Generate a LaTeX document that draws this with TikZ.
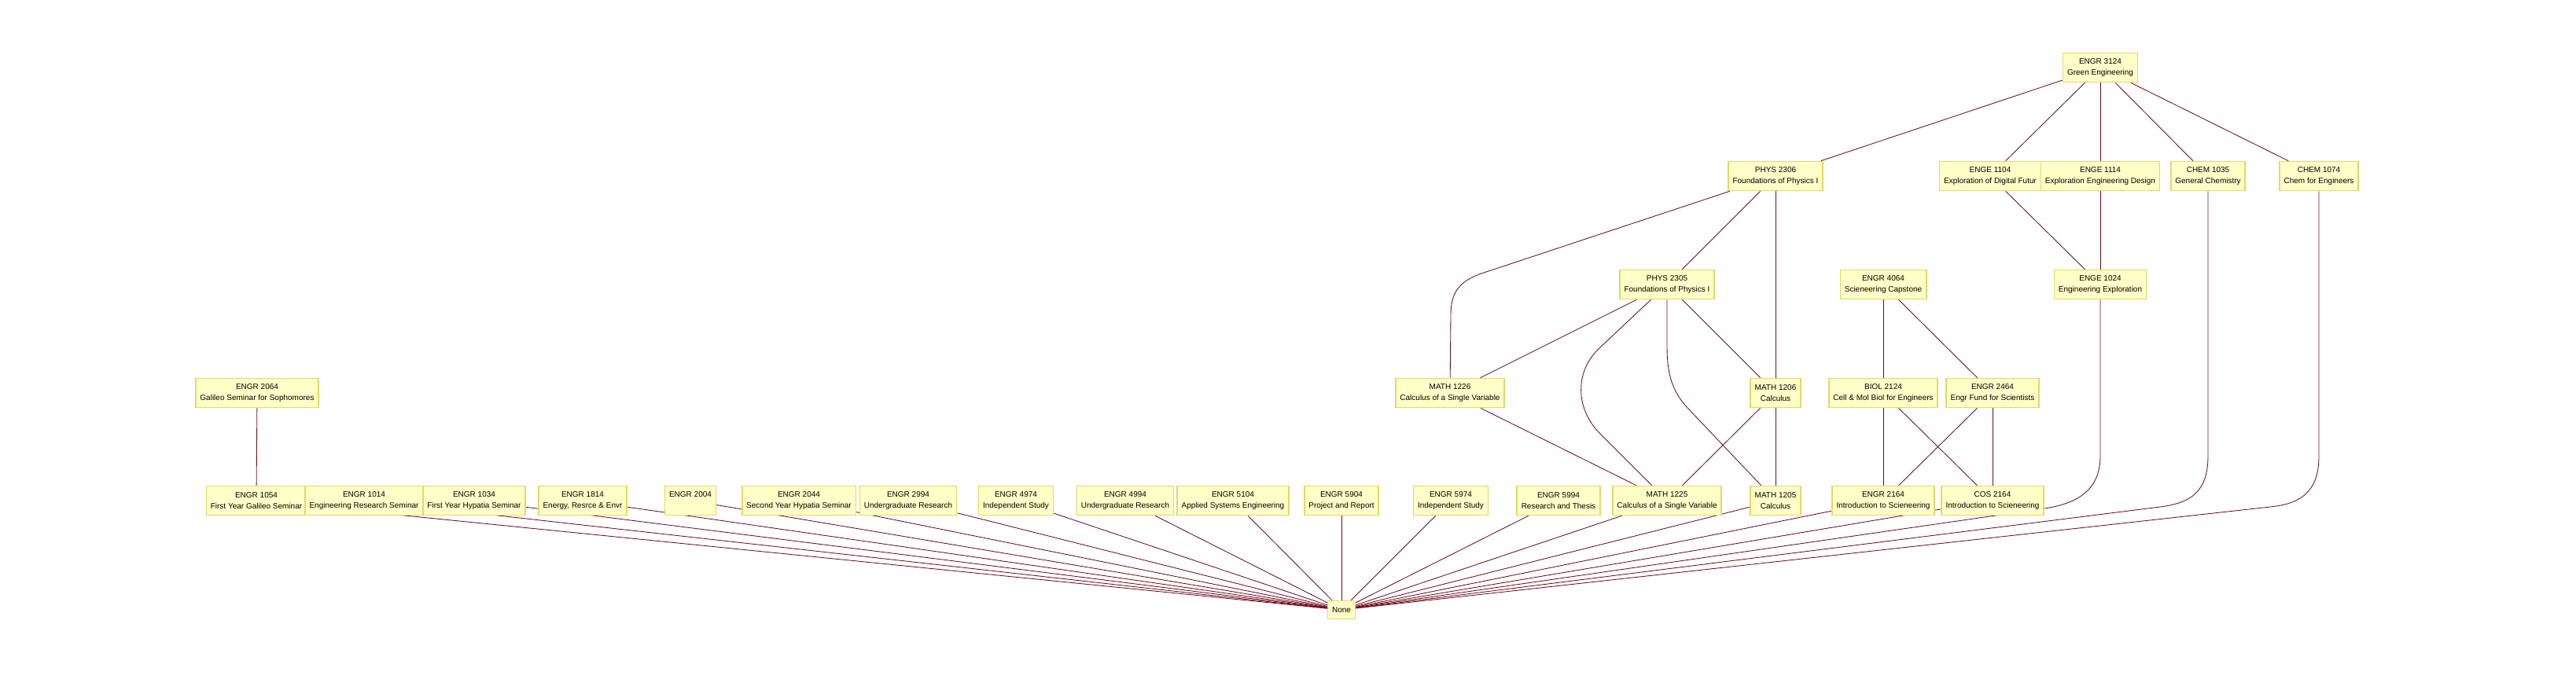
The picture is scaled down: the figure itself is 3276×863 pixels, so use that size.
\documentclass[tikz,border=0pt]{standalone}
\usepackage{fontspec}
\setmainfont{Liberation Sans}
\usetikzlibrary{backgrounds}
\definecolor{boxfill}{RGB}{255,255,200}
\definecolor{boxline}{RGB}{234,214,100}
\definecolor{edgecol}{RGB}{112,12,28}

\begin{document}
\begin{tikzpicture}[
    x=1pt, y=-1pt,
    font=\fontsize{10}{14}\selectfont,
    box/.style={draw=boxline, fill=boxfill, line width=1.6pt, align=center, inner xsep=5.5pt, inner ysep=0pt, minimum height=37pt},
    link/.style={draw=edgecol, line width=0.85pt}
]
\useasboundingbox (0,0) rectangle (3276,863);

% rank 0
\node[box] (r3124) at (2671,86) {ENGR 3124\\ Green Engineering};

% rank 1
\node[box] (p2306) at (2258,224) {PHYS 2306\\ Foundations of Physics I};
\node[box] (g1104) at (2531,224) {ENGE 1104\\ Exploration of Digital Futur};
\node[box] (g1114) at (2671,224) {ENGE 1114\\ Exploration Engineering Design};
\node[box] (c1035) at (2808,224) {CHEM 1035\\ General Chemistry};
\node[box] (c1074) at (2949,224) {CHEM 1074\\ Chem for Engineers};

% rank 2
\node[box] (p2305) at (2120,362) {PHYS 2305\\ Foundations of Physics I};
\node[box] (r4064) at (2395,362) {ENGR 4064\\ Scieneering Capstone};
\node[box] (g1024) at (2671,362) {ENGE 1024\\ Engineering Exploration};

% rank 3
\node[box] (r2064) at (327,500) {ENGR 2064\\ Galileo Seminar for Sophomores};
\node[box] (m1226) at (1844,500) {MATH 1226\\ Calculus of a Single Variable};
\node[box] (m1206) at (2258,500) {MATH 1206\\ Calculus};
\node[box] (b2124) at (2395,500) {BIOL 2124\\ Cell \& Mol Biol for Engineers};
\node[box] (r2464) at (2534,500) {ENGR 2464\\ Engr Fund for Scientists};

% rank 4
\node[box] (r1054) at (326,637) {ENGR 1054\\ First Year Galileo Seminar};
\node[box] (r1014) at (463,637) {ENGR 1014\\ Engineering Research Seminar};
\node[box] (r1034) at (603,637) {ENGR 1034\\ First Year Hypatia Seminar};
\node[box] (r1814) at (741,637) {ENGR 1814\\ Energy, Resrce \& Envr};
\node[box] (r2004) at (878,637) {ENGR 2004\\ \vphantom{Cg}};
\node[box] (r2044) at (1016,637) {ENGR 2044\\ Second Year Hypatia Seminar};
\node[box] (r2994) at (1155,637) {ENGR 2994\\ Undergraduate Research};
\node[box] (r4974) at (1292,637) {ENGR 4974\\ Independent Study};
\node[box] (r4994) at (1431,637) {ENGR 4994\\ Undergraduate Research};
\node[box] (r5104) at (1568,637) {ENGR 5104\\ Applied Systems Engineering};
\node[box] (r5904) at (1706,637) {ENGR 5904\\ Project and Report};
\node[box] (r5974) at (1845,637) {ENGR 5974\\ Independent Study};
\node[box] (r5994) at (1982,637) {ENGR 5994\\ Research and Thesis};
\node[box] (m1225) at (2120,637) {MATH 1225\\ Calculus of a Single Variable};
\node[box] (m1205) at (2258,637) {MATH 1205\\ Calculus};
\node[box] (r2164) at (2395,637) {ENGR 2164\\ Introduction to Scieneering};
\node[box] (cs2164) at (2534,637) {COS 2164\\ Introduction to Scieneering};

% rank 5
\node[box, minimum height=23pt] (none) at (1706,776) {None};

\begin{pgfonlayer}{background}
\draw[link] (r3124) -- (p2306);
\draw[link] (r3124) -- (g1104);
\draw[link] (r3124) -- (g1114);
\draw[link] (r3124) -- (c1035);
\draw[link] (r3124) -- (c1074);
\draw[link] (p2306) -- (1887,347) .. controls (1856,357) and (1845,372) .. (1845,400) -- (m1226);
\draw[link] (p2306) -- (p2305);
\draw[link] (p2306) -- (m1206);
\draw[link] (g1104) -- (g1024);
\draw[link] (g1114) -- (g1024);
\draw[link] (p2305) -- (m1226);
\draw[link] (p2305) -- (2035,442) .. controls (2002,472) and (2003,520) .. (2035,552) -- (m1225);
\draw[link] (p2305) -- (2120,440) .. controls (2120,475) and (2126,498) .. (2147,520) -- (m1205);
\draw[link] (p2305) -- (m1206);
\draw[link] (r4064) -- (b2124);
\draw[link] (r4064) -- (r2464);
\draw[link] (r2064) -- (r1054);
\draw[link] (m1226) -- (m1225);
\draw[link] (m1206) -- (m1225);
\draw[link] (m1206) -- (m1205);
\draw[link] (b2124) -- (r2164);
\draw[link] (b2124) -- (cs2164);
\draw[link] (r2464) -- (r2164);
\draw[link] (r2464) -- (cs2164);
% down to None
\draw[link] (g1024) -- (g1024 |- 0,580) .. controls (2671,625) and (2640,641) .. (2600,647) -- (none);
\draw[link] (c1035) -- (c1035 |- 0,580) .. controls (2808,625) and (2787,640) .. (2747,645) -- (none);
\draw[link] (c1074) -- (c1074 |- 0,580) .. controls (2949,625) and (2927,641) .. (2887,645) -- (none);
\draw[link] (r1054) -- (none);
\draw[link] (r1014) -- (none);
\draw[link] (r1034) -- (none);
\draw[link] (r1814) -- (none);
\draw[link] (r2004) -- (none);
\draw[link] (r2044) -- (none);
\draw[link] (r2994) -- (none);
\draw[link] (r4974) -- (none);
\draw[link] (r4994) -- (none);
\draw[link] (r5104) -- (none);
\draw[link] (r5904) -- (none);
\draw[link] (r5974) -- (none);
\draw[link] (r5994) -- (none);
\draw[link] (m1225) -- (none);
\draw[link] (m1205) -- (none);
\draw[link] (r2164) -- (none);
\draw[link] (cs2164) -- (none);
\end{pgfonlayer}
\end{tikzpicture}
\end{document}
